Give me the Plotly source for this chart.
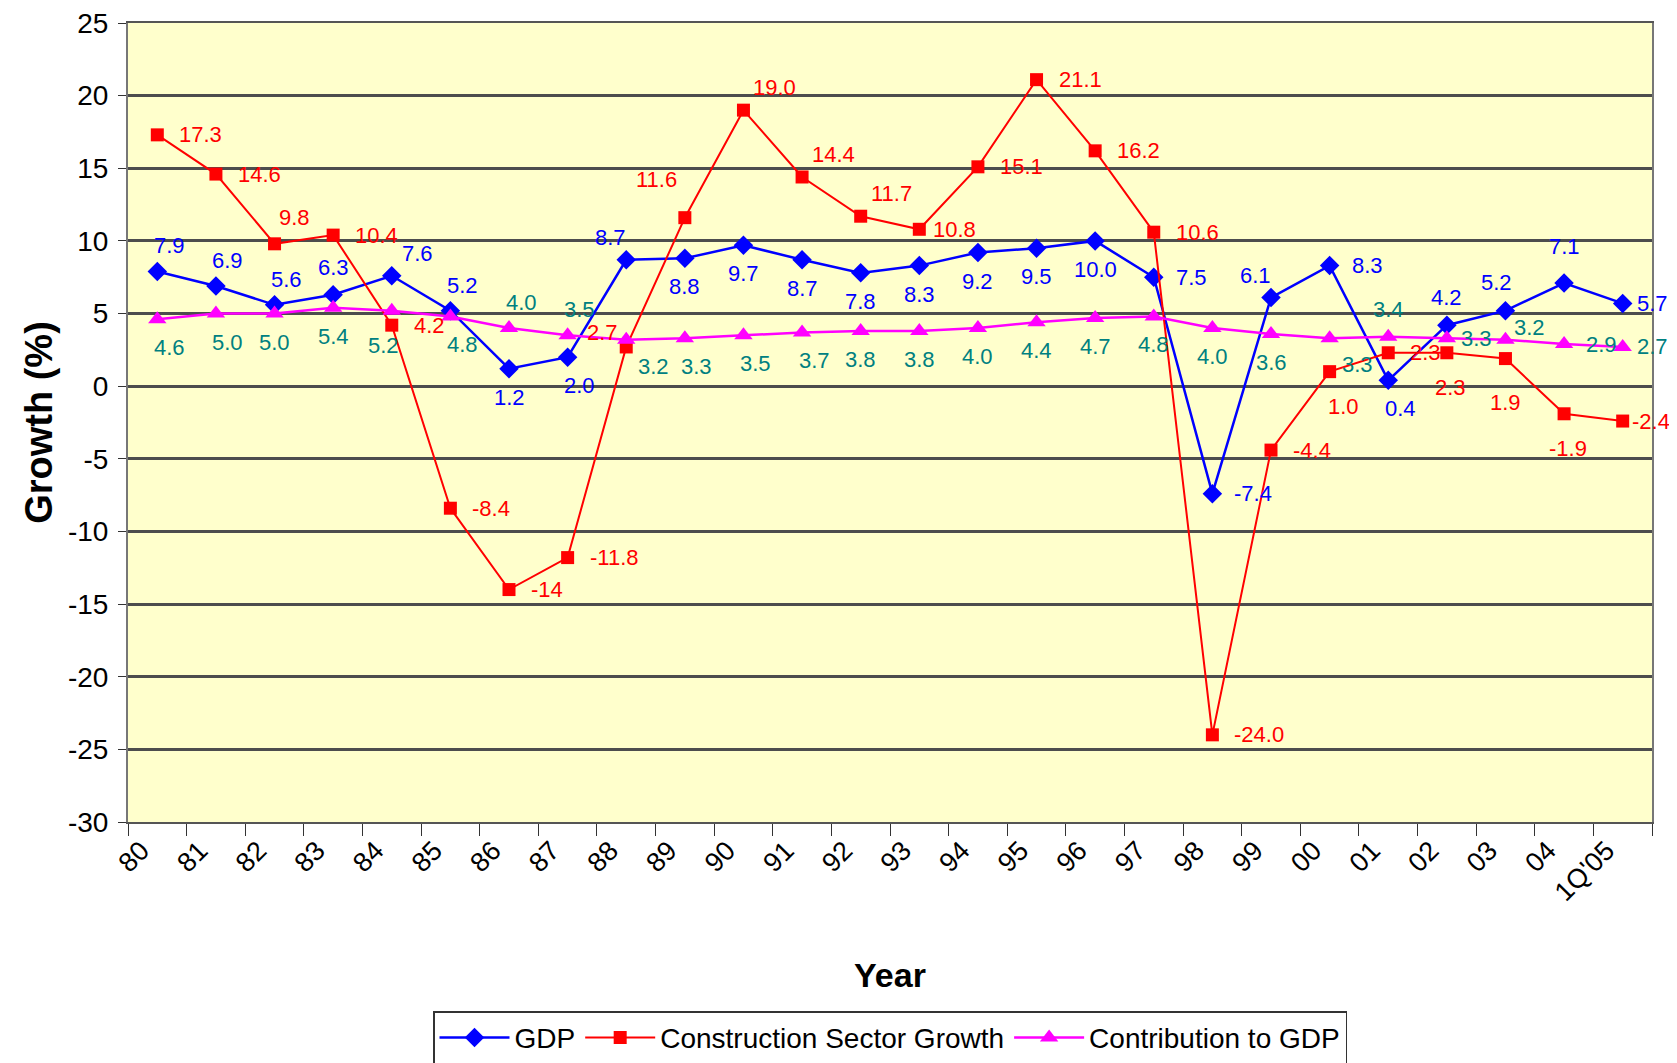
import plotly.graph_objects as go

years = ["80", "81", "82", "83", "84", "85", "86", "87", "88", "89", "90", "91", "92",
         "93", "94", "95", "96", "97", "98", "99", "00", "01", "02", "03", "04", "1Q'05"]

gdp = [7.9, 6.9, 5.6, 6.3, 7.6, 5.2, 1.2, 2.0, 8.7, 8.8, 9.7, 8.7, 7.8,
       8.3, 9.2, 9.5, 10.0, 7.5, -7.4, 6.1, 8.3, 0.4, 4.2, 5.2, 7.1, 5.7]
construction = [17.3, 14.6, 9.8, 10.4, 4.2, -8.4, -14.0, -11.8, 2.7, 11.6, 19.0, 14.4, 11.7,
                10.8, 15.1, 21.1, 16.2, 10.6, -24.0, -4.4, 1.0, 2.3, 2.3, 1.9, -1.9, -2.4]
contribution = [4.6, 5.0, 5.0, 5.4, 5.2, 4.8, 4.0, 3.5, 3.2, 3.3, 3.5, 3.7, 3.8,
                3.8, 4.0, 4.4, 4.7, 4.8, 4.0, 3.6, 3.3, 3.4, 3.3, 3.2, 2.9, 2.7]

y_ticks = [25, 20, 15, 10, 5, 0, -5, -10, -15, -20, -25, -30]
y_ticktext = ["25", "20", "15", "10", "5", "0", "-5", "-10", "-15", "-20", "-25", "-30"]

# label text as shown in the chart (the -14 point has no decimal)
gdp_text = [f"{v:.1f}" for v in gdp]
con_text = [f"{v:.1f}" for v in construction]
con_text[6] = "-14"
ctb_text = [f"{v:.1f}" for v in contribution]

# where each data label sits relative to its point (hand placed in the original)
gdp_pos = ["tc", "tc", "tc", "t", "tr", "tc", "b", "bc", "tl", "b", "b", "b", "b",
           "b", "b", "b", "b", "r", "r", "tl", "r", "bc", "t", "tcl", "t2", "rn"]
con_pos = ["r", "r", "tcr", "r", "r", "r", "r", "r", "lu", "tl2", "tr", "tr", "tr",
           "rn", "r", "r", "r", "r", "r", "r", "bc2", "r", "b2", "b3", "b2", "rnn"]
ctb_pos = ["bc", "bc", "b", "b", "bl", "bc", "tc", "tc", "br", "bc", "bc", "bc", "b",
           "b", "b", "b", "b", "b", "b", "b", "br", "t", "rn", "ru", "r", "rn"]

# code -> (xanchor, xshift, yanchor, yshift)
OFFSETS = {
    "r": ("left", 20, "middle", 0),
    "rn": ("left", 12, "middle", 0),
    "rnn": ("left", 7, "middle", 0),
    "ru": ("left", 7, "middle", 12),
    "lu": ("right", -6, "middle", 14),
    "t": ("center", 0, "bottom", 13),
    "t2": ("center", 0, "bottom", 22),
    "b": ("center", 0, "top", -14),
    "b2": ("center", 4, "top", -20),
    "b3": ("center", 0, "top", -29),
    "tr": ("left", 8, "bottom", 8),
    "tl": ("center", -16, "bottom", 8),
    "tl2": ("right", -6, "bottom", 24),
    "tc": ("center", 12, "bottom", 11),
    "tcr": ("center", 20, "bottom", 12),
    "tcl": ("center", -9, "bottom", 14),
    "bc": ("center", 12, "top", -14),
    "bc2": ("center", 14, "top", -20),
    "bl": ("center", -8, "top", -20),
    "br": ("left", 10, "top", -12),
}

FONT = "Arial, Liberation Sans, sans-serif"

fig = go.Figure()
fig.add_trace(go.Scatter(
    x=years, y=gdp, name="GDP", mode="lines+markers",
    line=dict(color="#0000FF", width=2.5),
    marker=dict(symbol="diamond", size=15, color="#0000FF"),
))
fig.add_trace(go.Scatter(
    x=years, y=construction, name="Construction Sector Growth", mode="lines+markers",
    line=dict(color="#FF0000", width=2),
    marker=dict(symbol="square", size=13, color="#FF0000"),
))
fig.add_trace(go.Scatter(
    x=years, y=contribution, name="Contribution to GDP", mode="lines+markers",
    line=dict(color="#FF00FF", width=2.5),
    marker=dict(symbol="triangle-up", size=16, color="#FF00FF"),
))

# data labels; x is the category index so "00".."04" are not read as numbers
for vals, texts, pos, color in [
    (gdp, gdp_text, gdp_pos, "#0000FF"),
    (construction, con_text, con_pos, "#FF0000"),
    (contribution, ctb_text, ctb_pos, "#008080"),
]:
    for i, (y, t, p) in enumerate(zip(vals, texts, pos)):
        xa, xs, ya, ys = OFFSETS[p]
        fig.add_annotation(
            x=i, y=y, text=t, showarrow=False,
            xanchor=xa, xshift=xs, yanchor=ya, yshift=ys,
            font=dict(color=color, size=22, family=FONT),
        )

# outer frame edge at the far right of the original chart
fig.add_shape(type="line", xref="paper", yref="paper", x0=1.0131, x1=1.0131,
              y0=-0.4, y1=1.1, line=dict(color="#888888", width=2))

fig.update_layout(
    width=1669,
    height=1055,
    paper_bgcolor="white",
    plot_bgcolor="#FFFFCC",
    font=dict(family=FONT, color="black"),
    margin=dict(l=120, r=25, t=15, b=241, autoexpand=False),
    showlegend=True,
    legend=dict(
        orientation="h", x=0.5, xanchor="center", y=-0.237, yanchor="top",
        bordercolor="#333333", borderwidth=1.5, bgcolor="white",
        font=dict(size=28, family=FONT), itemwidth=70,
    ),
)
fig.update_xaxes(
    type="category", tickson="boundaries", tickangle=-45, range=[-0.5, 25.5],
    ticks="outside", ticklen=12, tickcolor="#333333", ticklabelshift=-16,
    tickfont=dict(size=27, family=FONT),
    showline=True, linecolor="#555555", linewidth=2, mirror=True,
    showgrid=False,
    title=dict(text="<b>Year</b>", font=dict(size=34, family=FONT), standoff=57),
)
fig.update_yaxes(
    range=[-30, 25], tickvals=y_ticks, ticktext=y_ticktext, zeroline=False,
    ticks="outside", ticklen=8, tickcolor="#333333", ticklabelstandoff=4,
    ticklabeloverflow="allow",
    tickfont=dict(size=28, family=FONT),
    showline=True, linecolor="#777777", linewidth=2, mirror=True,
    showgrid=True, gridcolor="#4d4d4d", gridwidth=2.5,
    title=dict(text="<b>Growth (%)</b>", font=dict(size=38, family=FONT), standoff=4),
)

fig.write_html("out.html")
